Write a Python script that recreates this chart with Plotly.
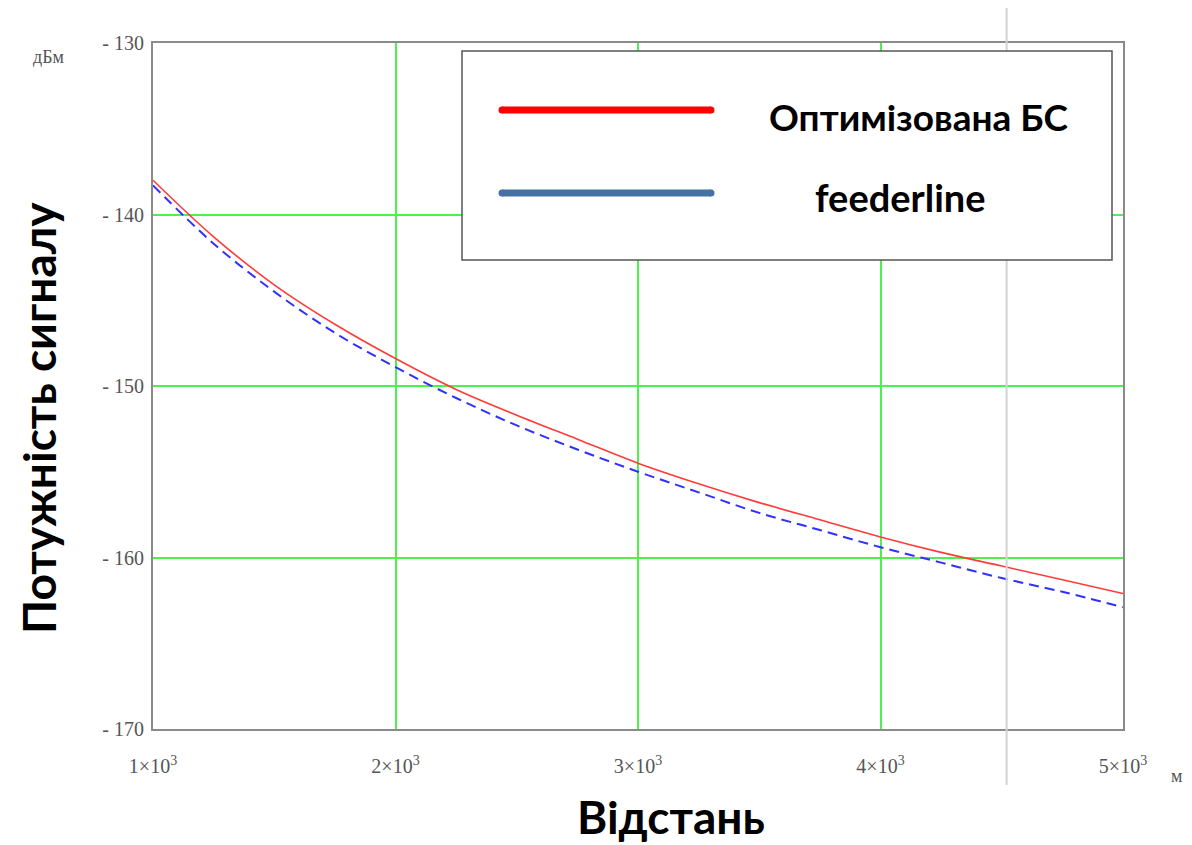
import plotly.graph_objects as go

# ---- data ----
distance_m = [1000, 1250, 1500, 1750, 2000, 2250, 2500, 2750, 3000,
              3250, 3500, 3750, 4000, 4250, 4500, 4750, 5000]
optimized_bs = [-138.0, -141.3, -144.1, -146.4, -148.4, -150.2, -151.7, -153.1, -154.5,
                -155.7, -156.8, -157.8, -158.8, -159.7, -160.5, -161.3, -162.1]
feederline = [-138.3, -141.7, -144.5, -146.9, -148.9, -150.7, -152.3, -153.7, -155.0,
              -156.2, -157.4, -158.4, -159.4, -160.3, -161.2, -162.0, -162.9]
marker_x = 4520
x_tickvals = [1000, 2000, 3000, 4000, 5000]
x_ticktext = ["1×10<sup>3</sup>", "2×10<sup>3</sup>", "3×10<sup>3</sup>",
              "4×10<sup>3</sup>", "5×10<sup>3</sup>"]
y_tickvals = [-130, -140, -150, -160, -170]
y_ticktext = ["- 130", "- 140", "- 150", "- 160", "- 170"]
series_names = ["Оптимізована БС", "feederline"]

OFF = 8  # page body margin
W, H = 1192 - OFF, 845 - OFF
# plot area in screen pixels: x 153..1123, y 43..729
L, R, T, B = 153 - OFF, 1192 - 1123, 43 - OFF, 845 - 729
PW, PH = W - L - R, H - T - B


def px(x):
    return (x - OFF - L) / PW


def py(y):
    return (H - B - (y - OFF)) / PH


fig = go.Figure()
fig.add_trace(go.Scatter(x=distance_m, y=optimized_bs, mode="lines", name=series_names[0],
                         line=dict(color="#ff3a3a", width=1.6, shape="spline")))
fig.add_trace(go.Scatter(x=distance_m, y=feederline, mode="lines", name=series_names[1],
                         line=dict(color="#3030ff", width=2, dash="10px,6px", shape="spline")))

grid_green = "#4df04d"
axis_grey = "#8a8a8a"
tick_font = dict(family="Liberation Serif", size=20, color="#555555")
fig.update_xaxes(range=[1000, 5000], tickvals=x_tickvals, ticktext=x_ticktext,
                 showgrid=True, gridcolor=grid_green, gridwidth=2,
                 showline=True, linecolor=axis_grey, linewidth=2, mirror=True,
                 zeroline=False, ticks="", ticklabelstandoff=18, tickfont=tick_font)
fig.update_yaxes(range=[-170, -130], tickvals=y_tickvals, ticktext=y_ticktext,
                 showgrid=True, gridcolor=grid_green, gridwidth=2,
                 showline=True, linecolor=axis_grey, linewidth=2, mirror=True,
                 zeroline=False, ticks="", ticklabelstandoff=3, tickfont=tick_font)

shapes = [
    dict(type="line", xref="x", yref="paper", x0=marker_x, x1=marker_x,
         y0=py(785), y1=py(0), line=dict(color="#d2d2d2", width=2), layer="above"),
    dict(type="rect", xref="paper", yref="paper", x0=px(462), x1=px(1112),
         y0=py(260), y1=py(51), fillcolor="white",
         line=dict(color="#555555", width=1.5), layer="above"),
    dict(type="line", xref="paper", yref="paper", x0=px(502), x1=px(711),
         y0=py(110), y1=py(110), line=dict(color="#ff0000", width=7), layer="above"),
    dict(type="line", xref="paper", yref="paper", x0=px(502), x1=px(711),
         y0=py(193), y1=py(193), line=dict(color="#4472a4", width=7), layer="above"),
]
for cy, col in [(110, "#ff0000"), (193, "#4472a4")]:
    for cx in (502, 711):
        shapes.append(dict(type="circle", xref="paper", yref="paper",
                           x0=px(cx - 3.5), x1=px(cx + 3.5), y0=py(cy + 3.5), y1=py(cy - 3.5),
                           fillcolor=col, line=dict(width=0), layer="above"))
fig.update_layout(shapes=shapes)

annotations = [
    dict(text="<b>" + series_names[0] + "</b>", x=px(919), y=py(116), xref="paper", yref="paper",
         showarrow=False, font=dict(family="Lato", size=37, color="black"),
         xanchor="center", yanchor="middle"),
    dict(text="<b>" + series_names[1] + "</b>", x=px(900), y=py(197), xref="paper", yref="paper",
         showarrow=False, font=dict(family="Lato", size=38, color="black"),
         xanchor="center", yanchor="middle"),
    dict(text="<b>Відстань</b>", x=px(671), y=py(817), xref="paper", yref="paper",
         showarrow=False, font=dict(family="Lato", size=46, color="black"),
         xanchor="center", yanchor="middle", borderpad=0),
    dict(text="<b>Потужність сигналу</b>", x=px(38), y=py(418), xref="paper", yref="paper",
         showarrow=False, textangle=-90, font=dict(family="Lato", size=46, color="black"),
         xanchor="center", yanchor="middle", borderpad=0),
    dict(text="дБм", x=px(48), y=py(57), xref="paper", yref="paper",
         showarrow=False, font=dict(family="Liberation Serif", size=18, color="#555555"),
         xanchor="center", yanchor="middle"),
    dict(text="м", x=px(1176), y=py(776), xref="paper", yref="paper",
         showarrow=False, font=dict(family="Liberation Serif", size=18, color="#555555"),
         xanchor="center", yanchor="middle", borderpad=0),
]
fig.update_layout(annotations=annotations)

fig.update_layout(width=W, height=H, margin=dict(l=L, r=R, t=T, b=B, autoexpand=False),
                  plot_bgcolor="white", paper_bgcolor="white", showlegend=False)

fig.write_html("out.html")
